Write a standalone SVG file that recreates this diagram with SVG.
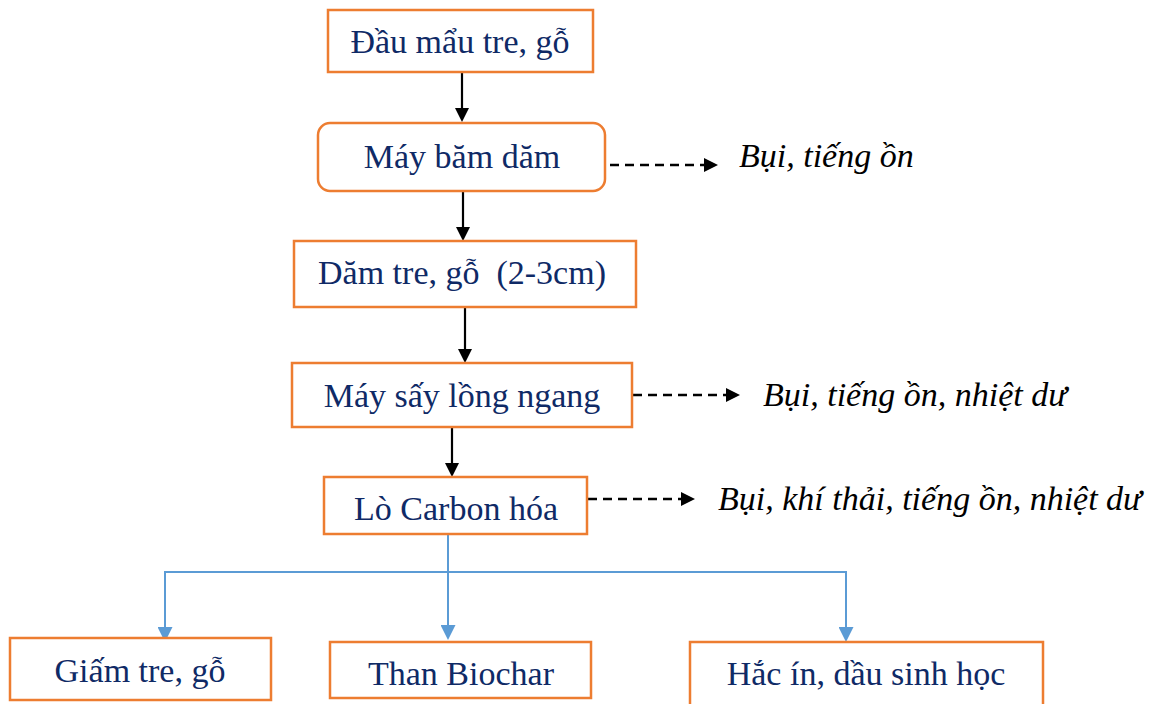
<svg xmlns="http://www.w3.org/2000/svg" width="1159" height="704" viewBox="0 0 1159 704">
  <style>
    .box { fill: #ffffff; stroke: #ed7d31; stroke-width: 2.5; }
    .label { font-family: "Liberation Serif", "Times New Roman", serif; font-size: 34px; fill: #0f2a66; text-anchor: middle; white-space: pre; }
    .note { font-family: "Liberation Serif", "Times New Roman", serif; font-size: 34px; font-style: italic; fill: #000000; }
    .flow { stroke: #000000; stroke-width: 2.2; fill: none; }
    .emit { stroke: #000000; stroke-width: 2.5; fill: none; stroke-dasharray: 9 6; }
    .split { stroke: #5b9bd5; stroke-width: 2; fill: none; }
  </style>
  <defs>
    <marker id="headBlack" markerUnits="userSpaceOnUse" markerWidth="14" markerHeight="14" viewBox="0 0 14 14" refX="3" refY="7" orient="auto">
      <path d="M0,0 L14,7 L0,14 z" fill="#000000"/>
    </marker>
    <marker id="headBlue" markerUnits="userSpaceOnUse" markerWidth="15" markerHeight="15" viewBox="0 0 15 15" refX="3" refY="7.5" orient="auto">
      <path d="M0,0 L15,7.5 L0,15 z" fill="#5b9bd5"/>
    </marker>
  </defs>

  <rect width="1159" height="704" fill="#ffffff"/>

  <!-- connectors -->
  <g id="connectors">
    <!-- main process line -->
    <line class="flow" x1="462" y1="72" x2="462" y2="111" marker-end="url(#headBlack)"/>
    <line class="flow" x1="463" y1="191" x2="463" y2="230" marker-end="url(#headBlack)"/>
    <line class="flow" x1="465" y1="307" x2="465" y2="352" marker-end="url(#headBlack)"/>
    <line class="flow" x1="452" y1="427" x2="452" y2="466" marker-end="url(#headBlack)"/>
    <!-- emissions -->
    <line class="emit" x1="610" y1="165" x2="707" y2="165" marker-end="url(#headBlack)"/>
    <line class="emit" x1="633" y1="395" x2="729" y2="395" marker-end="url(#headBlack)"/>
    <line class="emit" x1="588" y1="499" x2="684" y2="499" marker-end="url(#headBlack)"/>
    <!-- products split -->
    <line class="split" x1="448" y1="534" x2="448" y2="628" marker-end="url(#headBlue)"/>
    <line class="split" x1="165" y1="572" x2="846" y2="572"/>
    <line class="split" x1="165" y1="571" x2="165" y2="630" marker-end="url(#headBlue)"/>
    <line class="split" x1="846" y1="571" x2="846" y2="630" marker-end="url(#headBlue)"/>
  </g>

  <!-- process nodes -->
  <g id="node-dau-mau">
    <rect class="box" x="328" y="10" width="265" height="62"/>
    <text class="label" x="460" y="53">Đầu mẩu tre, gỗ</text>
  </g>
  <g id="node-may-bam">
    <rect class="box" x="318" y="123" width="287" height="68" rx="12" ry="12"/>
    <text class="label" x="462" y="168">Máy băm dăm</text>
  </g>
  <g id="node-dam">
    <rect class="box" x="294" y="241" width="342" height="66"/>
    <text class="label" x="462" y="284">Dăm tre, gỗ  (2-3cm)</text>
  </g>
  <g id="node-may-say">
    <rect class="box" x="292" y="363" width="340" height="64"/>
    <text class="label" x="462" y="407">Máy sấy lồng ngang</text>
  </g>
  <g id="node-lo-carbon">
    <rect class="box" x="324" y="477" width="263" height="57"/>
    <text class="label" x="456" y="520">Lò Carbon hóa</text>
  </g>

  <!-- emission notes -->
  <g id="note-bam">
    <text class="note" x="739" y="167">Bụi, tiếng ồn</text>
  </g>
  <g id="note-say">
    <text class="note" x="763" y="406">Bụi, tiếng ồn, nhiệt dư</text>
  </g>
  <g id="note-lo">
    <text class="note" x="718" y="510">Bụi, khí thải, tiếng ồn, nhiệt dư</text>
  </g>

  <!-- product nodes -->
  <g id="node-giam">
    <rect class="box" x="10" y="638" width="261" height="62"/>
    <text class="label" x="140" y="682">Giấm tre, gỗ</text>
  </g>
  <g id="node-than">
    <rect class="box" x="330" y="642" width="261" height="56"/>
    <text class="label" x="461" y="685">Than Biochar</text>
  </g>
  <g id="node-hac-in">
    <rect class="box" x="690" y="642" width="353" height="70"/>
    <text class="label" x="866" y="685">Hắc ín, dầu sinh học</text>
  </g>
</svg>
